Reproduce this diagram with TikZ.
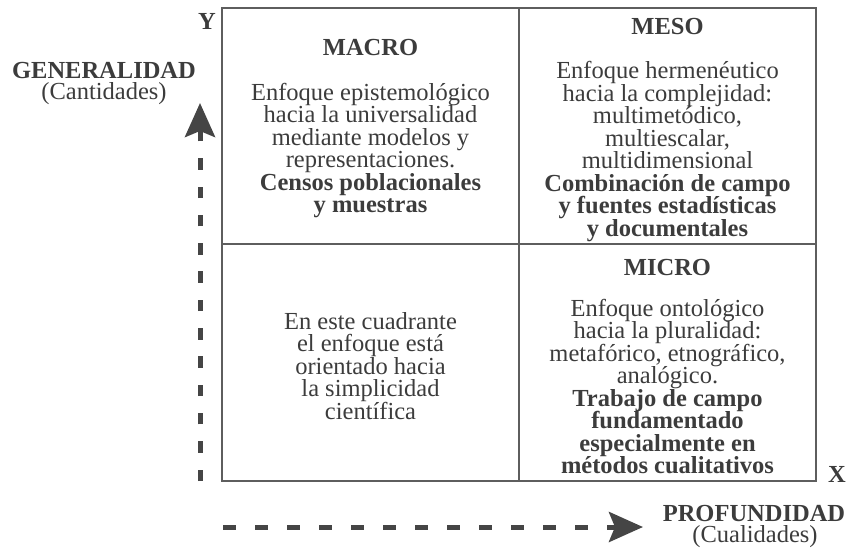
\documentclass[tikz,border=0pt]{standalone}
\usepackage{fontspec}
\setmainfont{Liberation Serif}
\usetikzlibrary{arrows.meta}
\definecolor{txt}{HTML}{3C3C3C}
\definecolor{grid}{HTML}{5E5E5E}
\definecolor{arr}{HTML}{454545}
\begin{document}
\begin{tikzpicture}[x=1pt,y=-1pt,
  every node/.style={text=txt,inner sep=0pt,font=\fontsize{24.5}{22.5}\selectfont},
  blk/.style={align=center,anchor=base},
  ttl/.style={anchor=base,font=\fontsize{24.5}{22.5}\selectfont\bfseries},
  gridline/.style={draw=grid,line width=2pt},
  axisarrow/.style={draw=arr,line width=5pt,-{Stealth[length=34pt,width=30pt,inset=6pt]}}
]
\useasboundingbox (0,0) rectangle (847,547);
% grid
\coordinate (tl) at (222,8);
\coordinate (br) at (816,481);
\coordinate (mt) at (519,8);
\coordinate (mb) at (519,481);
\coordinate (ml) at (222,244);
\coordinate (mr) at (816,244);
\draw[gridline] (tl) rectangle (br);
\draw[gridline] (mt) -- (mb);
\draw[gridline] (ml) -- (mr);
% axes
\coordinate (vs) at (200,481);
\coordinate (ve) at (200,103);
\coordinate (hs) at (223,527);
\coordinate (he) at (643,527);
\draw[axisarrow,dash pattern=on 11.5pt off 16.8pt] (vs) -- (ve);
\draw[axisarrow,dash pattern=on 12.7pt off 19.3pt] (hs) -- (he);
% axis labels
\node[ttl] (ylab) at (207,29) {Y};
\node[ttl] (xlab) at (837,482) {X};
\node[ttl] (gen) at (104,78) {GENERALIDAD};
\node[anchor=base] (cant) at (104,99) {(Cantidades)};
\node[ttl] (prof) at (754,521) {PROFUNDIDAD};
\node[anchor=base] (cual) at (755,542) {(Cualidades)};
% MACRO (base = last line)
\node[ttl] (macro) at (370.5,55) {MACRO};
\node[blk] (macrotxt) at (370.5,212.5) {Enfoque epistemológico\\hacia la universalidad\\mediante modelos y\\representaciones.\\\textbf{Censos poblacionales}\\\textbf{y muestras}};
% MESO
\node[ttl] (meso) at (667.5,34) {MESO};
\node[blk] (mesotxt) at (667.5,236) {Enfoque hermenéutico\\hacia la complejidad:\\multimetódico,\\multiescalar,\\multidimensional\\\textbf{Combinación de campo}\\\textbf{y fuentes estadísticas}\\\textbf{y documentales}};
% bottom-left
\node[blk] (bltxt) at (370.5,419) {En este cuadrante\\el enfoque está\\orientado hacia\\la simplicidad\\científica};
% MICRO
\node[ttl] (micro) at (667.5,275) {MICRO};
\node[blk] (microtxt) at (667.5,473.5) {Enfoque ontológico\\hacia la pluralidad:\\metafórico, etnográfico,\\analógico.\\\textbf{Trabajo de campo}\\\textbf{fundamentado}\\\textbf{especialmente en}\\\textbf{métodos cualitativos}};
\end{tikzpicture}
\end{document}
